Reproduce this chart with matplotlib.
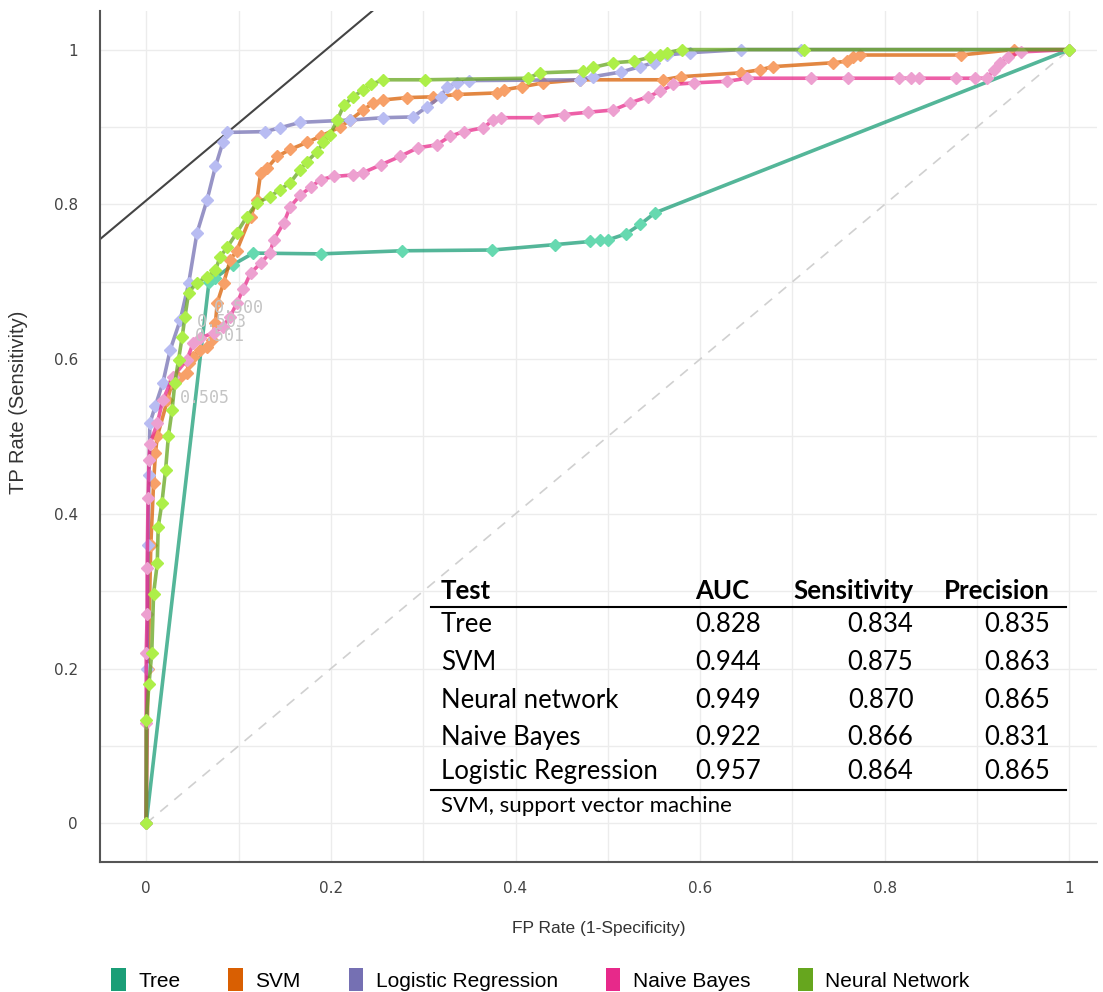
import matplotlib
matplotlib.use("Agg")
import matplotlib.pyplot as plt
from matplotlib.patches import Patch
from matplotlib import font_manager

# ROC points (FP rate, TP rate)
tree_fpr = [0, 0.068, 0.075, 0.094, 0.116, 0.189, 0.277, 0.375, 0.443, 0.481, 0.492, 0.5, 0.52, 0.535, 0.551, 1]
tree_tpr = [0, 0.70, 0.705, 0.722, 0.737, 0.736, 0.740, 0.741, 0.748, 0.752, 0.754, 0.754, 0.762, 0.774, 0.789, 1]

svm_fpr = [0, 0.002, 0.005, 0.008, 0.01, 0.012, 0.023, 0.028, 0.036, 0.044, 0.046, 0.051, 0.058, 0.066, 0.071,
           0.075, 0.077, 0.084, 0.091, 0.098, 0.113, 0.12, 0.124, 0.131, 0.142, 0.156, 0.174, 0.189, 0.21, 0.221,
           0.235, 0.246, 0.257, 0.283, 0.311, 0.337, 0.38, 0.387, 0.407, 0.43, 0.47, 0.56, 0.579, 0.644, 0.665,
           0.679, 0.744, 0.759, 0.766, 0.773, 0.882, 0.94, 1]
svm_tpr = [0, 0.2, 0.36, 0.44, 0.479, 0.5, 0.547, 0.569, 0.575, 0.582, 0.595, 0.603, 0.612, 0.616, 0.625,
           0.647, 0.673, 0.699, 0.728, 0.74, 0.784, 0.806, 0.841, 0.847, 0.862, 0.871, 0.880, 0.888, 0.9, 0.909,
           0.922, 0.931, 0.935, 0.938, 0.939, 0.942, 0.944, 0.948, 0.952, 0.957, 0.961, 0.961, 0.965, 0.97, 0.974,
           0.978, 0.983, 0.985, 0.991, 0.993, 0.993, 1.0, 1]

lr_fpr = [0, 0.001, 0.002, 0.003, 0.004, 0.01, 0.018, 0.026, 0.037, 0.046, 0.055, 0.066, 0.075, 0.083, 0.088,
          0.129, 0.145, 0.167, 0.221, 0.257, 0.289, 0.304, 0.319, 0.326, 0.337, 0.35, 0.47, 0.484, 0.514, 0.535,
          0.55, 0.564, 0.589, 0.644, 0.709, 1]
lr_tpr = [0, 0.2, 0.36, 0.45, 0.517, 0.54, 0.569, 0.612, 0.651, 0.698, 0.763, 0.806, 0.849, 0.88, 0.893,
          0.894, 0.899, 0.906, 0.909, 0.912, 0.913, 0.926, 0.939, 0.952, 0.957, 0.96, 0.961, 0.965, 0.971, 0.978,
          0.983, 0.993, 0.996, 1.0, 1.0, 1]

nb_fpr = [0, 0, 0, 0.001, 0.001, 0.002, 0.003, 0.004, 0.012, 0.018, 0.029, 0.044, 0.051, 0.058, 0.073, 0.083,
          0.091, 0.098, 0.105, 0.113, 0.124, 0.134, 0.138, 0.149, 0.156, 0.167, 0.178, 0.189, 0.203, 0.224, 0.235,
          0.254, 0.275, 0.294, 0.315, 0.329, 0.344, 0.365, 0.376, 0.384, 0.424, 0.452, 0.478, 0.506, 0.524, 0.543,
          0.557, 0.571, 0.593, 0.629, 0.651, 0.72, 0.76, 0.815, 0.828, 0.837, 0.877, 0.898, 0.911, 0.918, 0.925,
          0.933, 0.947, 1]
nb_tpr = [0, 0.13, 0.22, 0.27, 0.33, 0.42, 0.47, 0.49, 0.517, 0.547, 0.577, 0.599, 0.621, 0.627, 0.634, 0.642,
          0.655, 0.672, 0.69, 0.711, 0.724, 0.737, 0.754, 0.776, 0.797, 0.812, 0.822, 0.832, 0.836, 0.838, 0.841,
          0.851, 0.862, 0.873, 0.877, 0.888, 0.894, 0.899, 0.909, 0.912, 0.912, 0.916, 0.919, 0.922, 0.931, 0.939,
          0.946, 0.955, 0.957, 0.959, 0.963, 0.963, 0.963, 0.963, 0.963, 0.963, 0.963, 0.963, 0.963, 0.974, 0.983,
          0.99, 0.997, 1]

nn_fpr = [0, 0, 0.003, 0.006, 0.008, 0.012, 0.013, 0.017, 0.021, 0.024, 0.028, 0.031, 0.035, 0.039, 0.042,
          0.046, 0.055, 0.066, 0.075, 0.08, 0.088, 0.098, 0.109, 0.12, 0.134, 0.145, 0.156, 0.167, 0.174, 0.185,
          0.192, 0.199, 0.207, 0.214, 0.224, 0.235, 0.243, 0.257, 0.302, 0.413, 0.427, 0.473, 0.484, 0.506, 0.528,
          0.546, 0.557, 0.564, 0.58, 0.712, 1]
nn_tpr = [0, 0.133, 0.18, 0.22, 0.297, 0.336, 0.383, 0.414, 0.457, 0.5, 0.534, 0.569, 0.599, 0.629, 0.655,
          0.686, 0.699, 0.706, 0.715, 0.732, 0.745, 0.763, 0.784, 0.802, 0.81, 0.819, 0.828, 0.845, 0.855, 0.868,
          0.88, 0.89, 0.909, 0.928, 0.939, 0.948, 0.955, 0.961, 0.961, 0.963, 0.97, 0.972, 0.977, 0.983, 0.985,
          0.99, 0.993, 0.996, 1.0, 1.0, 1]

# threshold labels shown near the curves
thr_labels = ["0.500", "0.503", "0.501", "0.505"]
thr_x = [0.073, 0.055, 0.053, 0.037]
thr_y = [0.666, 0.648, 0.630, 0.550]

# summary table
tbl_models = ["Tree", "SVM", "Neural network", "Naive Bayes", "Logistic Regression"]
tbl_auc = ["0.828", "0.944", "0.949", "0.922", "0.957"]
tbl_sens = ["0.834", "0.875", "0.870", "0.866", "0.864"]
tbl_prec = ["0.835", "0.863", "0.865", "0.831", "0.865"]

names = {f.name for f in font_manager.fontManager.ttflist}
label_font = "Liberation Sans Narrow" if "Liberation Sans Narrow" in names else "Liberation Sans"
table_font = "Lato"
tsize = 18.5

fig = plt.figure(figsize=(11.03, 9.92), dpi=100)
ax = fig.add_axes([0.0907, 0.131, 0.904, 0.858])
ax.set_xlim(-0.05, 1.03)
ax.set_ylim(-0.05, 1.05)

ax.set_xticks([0, 0.2, 0.4, 0.6, 0.8, 1])
ax.set_xticklabels(["0", "0.2", "0.4", "0.6", "0.8", "1"])
ax.set_yticks([0, 0.2, 0.4, 0.6, 0.8, 1])
ax.set_yticklabels(["0", "0.2", "0.4", "0.6", "0.8", "1"])
ax.set_xticks([i / 10 for i in range(11)], minor=True)
ax.set_yticks([i / 10 for i in range(11)], minor=True)
ax.grid(which="both", color="#ececec", lw=1)
ax.set_axisbelow(True)
ax.tick_params(which="both", length=0, labelsize=11, colors="#444444")
ax.tick_params(axis="x", pad=14)
ax.tick_params(axis="y", pad=16)
for s in ["top", "right"]:
    ax.spines[s].set_visible(False)
for s in ["left", "bottom"]:
    ax.spines[s].set_color("#555555")
    ax.spines[s].set_linewidth(1.5)

ax.set_xlabel("FP Rate (1-Specificity)", family=label_font, fontsize=12.5, color="#333333", labelpad=18)
ax.set_ylabel("TP Rate (Sensitivity)", family=label_font, fontsize=14.5, color="#333333", labelpad=22)
ax.yaxis.set_label_coords(-0.072, 0.54)

# chance line and iso-performance line
ax.plot([0, 1], [0, 1], ls=(0, (6, 5)), color="#d0d0d0", lw=1.2, zorder=1)
ax.axline((0, 0.805), slope=1, color="#444444", lw=1.5, zorder=2)

series = [
    ("Tree", tree_fpr, tree_tpr, "#1b9e77", "#66d9b0"),
    ("SVM", svm_fpr, svm_tpr, "#d95f02", "#f7a068"),
    ("Logistic Regression", lr_fpr, lr_tpr, "#7570b3", "#b8bcf2"),
    ("Naive Bayes", nb_fpr, nb_tpr, "#e7298a", "#eda0d0"),
    ("Neural Network", nn_fpr, nn_tpr, "#66a61e", "#adef48"),
]
for i, (name, fx, ty, dark, light) in enumerate(series):
    ax.plot(fx, ty, color=dark, lw=2.6, alpha=0.75, zorder=3 + i)
    ax.plot(fx, ty, ls="none", marker="D", ms=6.5, color=light, mec=light, zorder=3 + i)

for t, x, y in zip(thr_labels, thr_x, thr_y):
    ax.text(x, y, t, family="DejaVu Sans Mono", fontsize=12, color="#c4c4c4", va="center", zorder=10)

# table drawn inside the axes
hy = 0.300
row_y = [0.257, 0.208, 0.159, 0.111, 0.067]
ax.text(0.319, hy, "Test", family=table_font, weight="bold", fontsize=tsize, va="center")
ax.text(0.595, hy, "AUC", family=table_font, weight="bold", fontsize=tsize, va="center")
ax.text(0.831, hy, "Sensitivity", family=table_font, weight="bold", fontsize=tsize, va="center", ha="right")
ax.text(0.979, hy, "Precision", family=table_font, weight="bold", fontsize=tsize, va="center", ha="right")
ax.plot([0.308, 0.996], [0.279, 0.279], color="black", lw=1.5, zorder=11)
ax.plot([0.308, 0.996], [0.043, 0.043], color="black", lw=1.5, zorder=11)
for y, m, a, s, p in zip(row_y, tbl_models, tbl_auc, tbl_sens, tbl_prec):
    ax.text(0.319, y, m, family=table_font, fontsize=tsize, va="center")
    ax.text(0.595, y, a, family=table_font, fontsize=tsize, va="center")
    ax.text(0.831, y, s, family=table_font, fontsize=tsize, va="center", ha="right")
    ax.text(0.979, y, p, family=table_font, fontsize=tsize, va="center", ha="right")
ax.text(0.319, 0.022, "SVM, support vector machine", family=table_font, fontsize=16, va="center")

handles = [Patch(facecolor=s[3], edgecolor="none", label=s[0]) for s in series]
fig.legend(handles=handles, loc="lower center", bbox_to_anchor=(0.49, -0.018), ncol=5, frameon=False,
           prop={"family": label_font, "size": 15}, handlelength=0.7, handleheight=1.3,
           columnspacing=2.3, handletextpad=0.6)

fig.savefig("out.png", dpi=100)
